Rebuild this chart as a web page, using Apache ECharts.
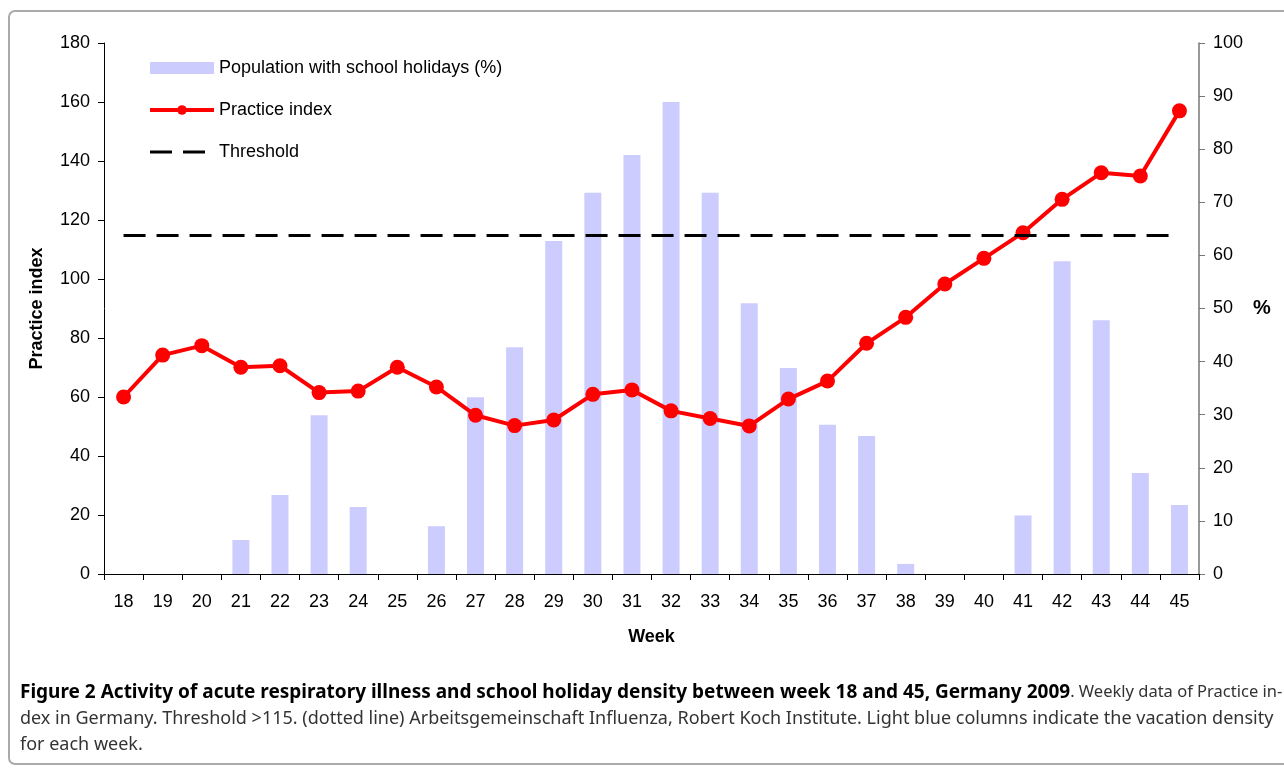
<!DOCTYPE html>
<html>
<head>
<meta charset="utf-8">
<script src="https://cdn.jsdelivr.net/npm/echarts@6.0.0/dist/echarts.min.js"></script>
<style>
  html, body { margin: 0; padding: 0; background: #fff; }
  #chart { width: 1284px; height: 769px; }
</style>
</head>
<body>
<div id="chart"></div>
<script>
// week numbers on the x axis
const weeks = ['18', '19', '20', '21', '22', '23', '24', '25', '26', '27', '28', '29', '30', '31',
  '32', '33', '34', '35', '36', '37', '38', '39', '40', '41', '42', '43', '44', '45'];

// practice index (left axis)
const practiceIndex = [60, 74.2, 77.4, 70.1, 70.6, 61.5, 62, 70.1, 63.4, 53.8, 50.3, 52.2, 60.9, 62.4,
  55.3, 52.7, 50.2, 59.3, 65.4, 78.2, 87, 98.3, 107, 115.7, 127, 136, 134.9, 157];

// population with school holidays in % (right axis)
const holidays = [0, 0, 0, 6.4, 14.9, 29.9, 12.6, 0, 9, 33.3, 42.7, 62.7, 71.8, 78.9,
  88.9, 71.8, 51, 38.8, 28.1, 26, 1.9, 0, 0, 11, 58.9, 47.8, 19, 13];

const threshold = 115;

const leftTicks = { min: 0, max: 180, interval: 20 };
const rightTicks = { min: 0, max: 100, interval: 10 };

const font = 'Liberation Sans, Arial, sans-serif';
const capFont = 'Noto Sans, sans-serif';
const dash = [22, 11];

const chart = echarts.init(document.getElementById('chart'));

chart.setOption({
  backgroundColor: '#fff',
  animation: false,
  grid: { left: 104, right: 85, top: 43, bottom: 195 },
  legend: {
    orient: 'vertical',
    left: 143,
    top: 54,
    itemWidth: 64,
    itemHeight: 12,
    itemGap: 24,
    selectedMode: false,
    textStyle: { fontSize: 18, color: '#000', fontFamily: font },
    data: [
      { name: 'Population with school holidays (%)', icon: 'rect' },
      { name: 'Practice index', lineStyle: { width: 4 } },
      { name: 'Threshold', itemStyle: { opacity: 0 }, lineStyle: { width: 3, type: dash } }
    ]
  },
  xAxis: {
    type: 'category',
    data: weeks,
    boundaryGap: true,
    name: 'Week',
    nameLocation: 'middle',
    nameGap: 54,
    nameTextStyle: { fontSize: 18, fontWeight: 'bold', color: '#000', fontFamily: font },
    axisLine: { lineStyle: { color: '#000', width: 1 } },
    axisTick: { show: true, alignWithLabel: false, length: 6, lineStyle: { color: '#000' } },
    axisLabel: { fontSize: 18, color: '#000', margin: 19, fontFamily: font, interval: 0 },
    splitLine: { show: false }
  },
  yAxis: [
    {
      type: 'value',
      min: leftTicks.min,
      max: leftTicks.max,
      interval: leftTicks.interval,
      name: 'Practice index',
      nameLocation: 'middle',
      nameGap: 58,
      nameTextStyle: { fontSize: 18, fontWeight: 'bold', color: '#000', fontFamily: font },
      axisLine: { show: true, lineStyle: { color: '#000', width: 1 } },
      axisTick: { show: true, length: 6, lineStyle: { color: '#000' } },
      axisLabel: { fontSize: 18, color: '#000', margin: 14, fontFamily: font },
      splitLine: { show: false }
    },
    {
      type: 'value',
      position: 'right',
      min: rightTicks.min,
      max: rightTicks.max,
      interval: rightTicks.interval,
      name: '%',
      nameLocation: 'middle',
      nameRotate: 0,
      nameGap: 54,
      nameTextStyle: { fontSize: 20, fontWeight: 'bold', color: '#000', fontFamily: font },
      axisLine: { show: true, lineStyle: { color: '#777', width: 1.5 } },
      axisTick: { show: true, length: 6, lineStyle: { color: '#777' } },
      axisLabel: { fontSize: 18, color: '#000', margin: 14, fontFamily: font },
      splitLine: { show: false }
    }
  ],
  series: [
    {
      name: 'Population with school holidays (%)',
      type: 'bar',
      yAxisIndex: 1,
      data: holidays,
      barWidth: 17,
      itemStyle: { color: '#ccccff' },
      z: 1
    },
    {
      name: 'Threshold',
      type: 'line',
      yAxisIndex: 0,
      data: [],
      symbol: 'none',
      itemStyle: { color: '#000' },
      lineStyle: { color: '#000', width: 3, type: dash },
      markLine: {
        silent: true,
        symbol: 'none',
        label: { show: false },
        lineStyle: { color: '#000', width: 3, type: dash },
        data: [[{ coord: [weeks[0], threshold] }, { coord: [weeks[weeks.length - 1], threshold] }]]
      },
      z: 2
    },
    {
      name: 'Practice index',
      type: 'line',
      yAxisIndex: 0,
      data: practiceIndex,
      symbol: 'circle',
      symbolSize: 15,
      itemStyle: { color: '#ff0000' },
      lineStyle: { color: '#ff0000', width: 4 },
      z: 3
    }
  ],
  graphic: [
    {
      type: 'rect',
      shape: { x: 9, y: 11, width: 1290, height: 753, r: 6 },
      style: { fill: 'none', stroke: '#aaa', lineWidth: 2 },
      silent: true
    },
    {
      type: 'text',
      left: 20,
      top: 683,
      style: {
        text: '{b|Figure 2 Activity of acute respiratory illness and school holiday density between week 18 and 45, Germany 2009}{n|. Weekly data of Practice in-}',
        rich: {
          b: { fontFamily: capFont, fontSize: 19, fontWeight: 'bold', fill: '#000' },
          n: { fontFamily: capFont, fontSize: 16.5, fill: '#333' }
        }
      }
    },
    {
      type: 'text',
      left: 20,
      top: 710,
      style: {
        text: 'dex in Germany. Threshold >115. (dotted line) Arbeitsgemeinschaft Influenza, Robert Koch Institute. Light blue columns indicate the vacation density',
        fontFamily: capFont,
        fontSize: 18,
        fill: '#333'
      }
    },
    {
      type: 'text',
      left: 20,
      top: 736,
      style: {
        text: 'for each week.',
        fontFamily: capFont,
        fontSize: 18,
        fill: '#333'
      }
    }
  ]
});
</script>
</body>
</html>
